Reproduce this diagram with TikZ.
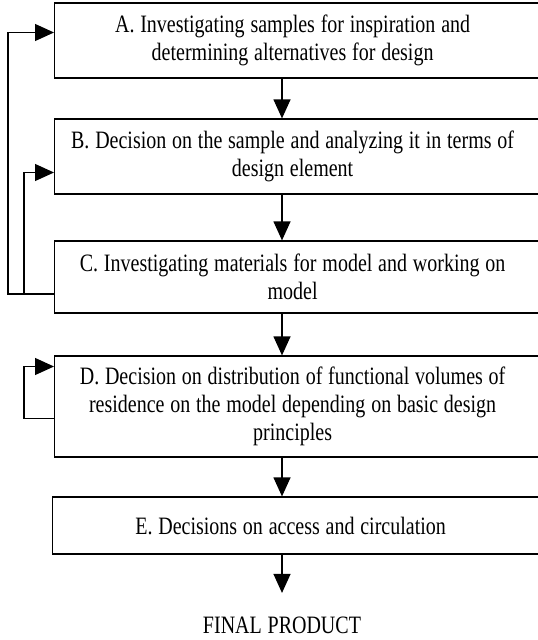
\documentclass[tikz,border=0pt]{standalone}
\usepackage{fontspec}
\setmainfont[FakeStretch=0.8]{Liberation Serif}
\usetikzlibrary{arrows.meta}

\newcommand{\flowfont}{\fontsize{25}{28}\selectfont\spaceskip=5.8pt plus 1pt minus 1pt\xspaceskip=5.8pt\relax}

\tikzset{
    stage/.style={draw, line width=1.2pt, anchor=west, text width=490pt,
        inner xsep=8pt, inner ysep=0pt, font=\flowfont,
        execute at begin node={\flowfont\parindent=0pt\leftskip=0pt plus 1fil\rightskip=30pt plus 1fil\parfillskip=0pt}},
    flow/.style={-{Triangle[length=19pt,width=17pt]}, line width=1.2pt}
}

\begin{document}
\begin{tikzpicture}[x=1pt, y=-1pt]
    \useasboundingbox (0,0) rectangle (538,640);
    \clip (0,0) rectangle (538,640);

    % stages
    \node[stage, minimum height=75pt] (A) at (54,40.5)
        {A. Investigating samples for inspiration and\\determining alternatives for design};
    \node[stage, minimum height=75pt] (B) at (54,156.5)
        {B. Decision on the sample and analyzing it in terms of\\design element};
    \node[stage, minimum height=72pt] (C) at (54,277)
        {C. Investigating materials for model and working on\\model};
    \node[stage, minimum height=101pt] (D) at (54,406.5)
        {D. Decision on distribution of functional volumes of\\residence on the model depending on basic design\\principles};
    \node[stage, minimum height=57pt] (E) at (52,525.5)
        {E. Decisions on access and circulation};
    \node[font=\flowfont, anchor=base] (fin) at (282,633) {FINAL PRODUCT};

    % main flow
    \draw[flow] (A.south -| fin) -- (B.north -| fin);
    \draw[flow] (B.south -| fin) -- (C.north -| fin);
    \draw[flow] (C.south -| fin) -- (D.north -| fin);
    \draw[flow] (D.south -| fin) -- (E.north -| fin);
    \draw[flow] (E.south -| fin) -- ([yshift=20pt]fin.north);

    % feedback loops
    \draw[flow] ([yshift=-17pt]C.west) -- ++(-46,0) |- ([yshift=8pt]A.west);
    \draw[flow] ([xshift=-30pt,yshift=-17pt]C.west) |- ([yshift=-16pt]B.west);
    \draw[flow] ([yshift=-12pt]D.west) -- ++(-30,0) |- ([yshift=40pt]D.west);
\end{tikzpicture}
\end{document}
